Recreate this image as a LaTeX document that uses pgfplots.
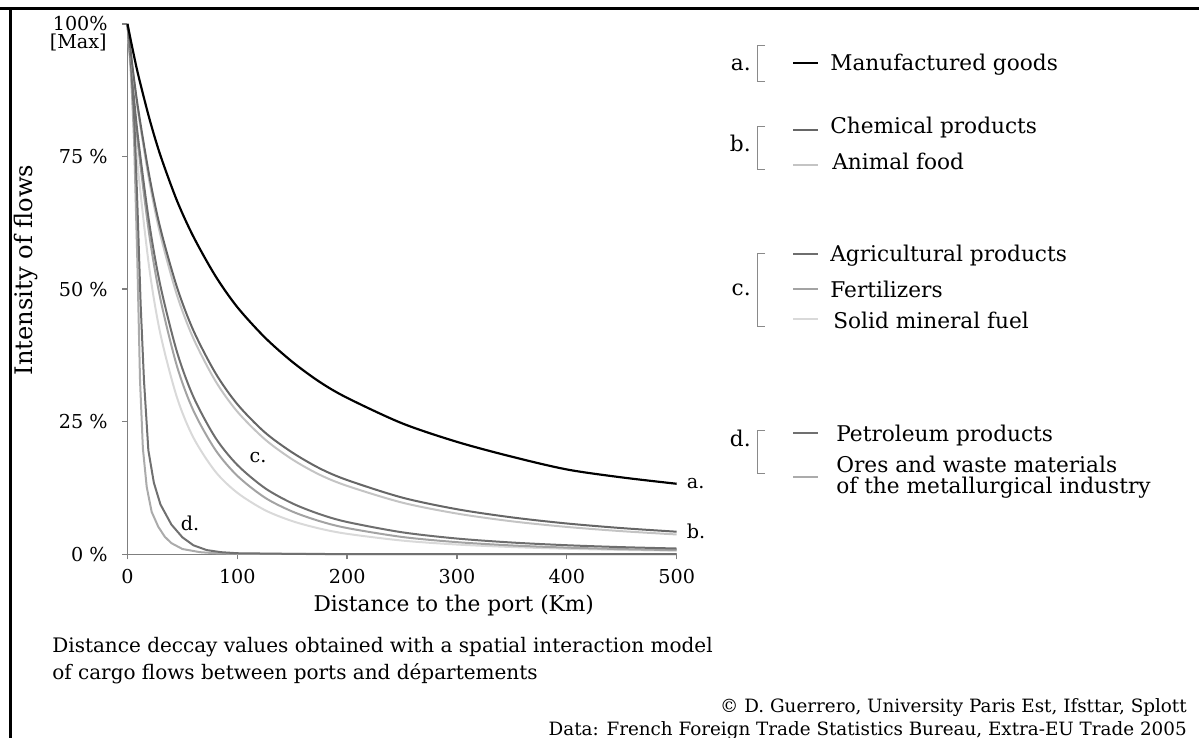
\documentclass[border=0pt]{standalone}
\usepackage{fontspec}
\setmainfont{DejaVu Serif}
\usepackage{pgfplots}
\pgfplotsset{compat=1.18}
\definecolor{axisgray}{HTML}{7F7F7F}
\definecolor{cA}{HTML}{000000}
\definecolor{cChem}{HTML}{666666}
\definecolor{cAnim}{HTML}{C4C4C4}
\definecolor{cAgri}{HTML}{6E6E6E}
\definecolor{cFert}{HTML}{A3A3A3}
\definecolor{cSolid}{HTML}{D9D9D9}
\definecolor{cPetro}{HTML}{707070}
\definecolor{cOres}{HTML}{ABABAB}
\definecolor{brk}{HTML}{8A8A8A}
\newcommand{\lf}{\fontsize{13}{15}\selectfont}
\newcommand{\cf}{\fontsize{11.5}{13}\selectfont}
\newcommand{\capf}{\fontsize{12}{14}\selectfont}
\newcommand{\srcf}{\fontsize{11}{13}\selectfont}
\begin{document}
\begin{tikzpicture}[x=0.6pt,y=0.6pt]
\path[use as bounding box] (0,0) rectangle (1199,738);
\draw[line width=1.8pt] (0,729) -- (1199,729);
\draw[line width=1.8pt] (10,0) -- (10,729.9);
\coordinate (O) at (127.5,183.7);
\begin{axis}[
  at={(O)}, anchor=south west, scale only axis,
  width=329.5pt, height=318.2pt,
  xmin=0, xmax=500, ymin=0, ymax=100,
  axis lines=left,
  axis line style={-, draw=axisgray, line width=0.9pt},
  tick style={draw=axisgray, line width=0.8pt},
  tick align=outside, major tick length=3pt,
  xtick={0,100,200,300,400,500},
  ytick={0,25,50,75,100},
  yticklabels={0 \%,25 \%,50 \%,75 \%,100\%},
  tick label style={font=\fontsize{11.5}{13}\selectfont},
  yticklabel style={xshift=-5.4pt},
  xticklabel style={yshift=-2.4pt},
  /pgf/number format/assume math mode=true,
  xlabel={Distance to the port (Km)},
  xlabel style={font=\lf, xshift=31pt},
  clip=false,
]
\addplot[cSolid, line width=1.2pt, smooth] coordinates {
(0,100)(5,84.2)(10,71.8)(20,53.7)(30,41.5)(45,29.6)(60,22.0)(80,15.6)(100,11.6)(125,8.34)(150,6.26)(175,4.85)(200,3.86)(250,2.59)(300,1.84)(350,1.37)(400,1.05)(450,0.83)(500,0.67)};
\addplot[cFert, line width=1.2pt, smooth] coordinates {
(0,100)(5,87.2)(10,76.5)(20,60.0)(30,48.1)(45,35.5)(60,27.1)(80,19.7)(100,14.8)(125,10.7)(150,8.07)(175,6.25)(200,4.95)(250,3.27)(300,2.29)(350,1.67)(400,1.26)(450,0.98)(500,0.78)};
\addplot[cAgri, line width=1.2pt, smooth] coordinates {
(0,100)(5,88.0)(10,77.9)(20,62.2)(30,50.6)(45,38.2)(60,29.7)(80,22.0)(100,16.85)(125,12.5)(150,9.61)(175,7.57)(200,6.09)(250,4.15)(300,2.97)(350,2.22)(400,1.71)(450,1.35)(500,1.09)};
\addplot[cOres, line width=1.2pt] coordinates {
(0,100)(3,92)(6,78)(9,55)(11.4,32.8)(14,20)(17.5,12.7)(22,8)(28,5.2)(34,3.3)(40,2.1)(50,1.0)(66,0.4)(80,0.2)(100,0.1)(200,0.03)(500,0.01)};
\addplot[cPetro, line width=1.2pt] coordinates {
(0,100)(3,93)(6,83)(9,66)(12,47)(15,32.8)(19,19.6)(24,13.5)(30,9.4)(40,5.6)(50,3.2)(60,1.7)(72,0.8)(85,0.4)(100,0.2)(150,0.08)(200,0.04)(300,0.02)(500,0.01)};
\addplot[cAnim, line width=1.2pt, smooth] coordinates {
(0,100)(5,90.9)(10,83.0)(20,70.2)(30,60.2)(45,48.9)(60,40.7)(80,32.7)(100,26.9)(125,21.7)(150,17.9)(175,15.0)(200,12.9)(250,9.75)(300,7.68)(350,6.22)(400,5.16)(450,4.36)(500,3.74)};
\addplot[cChem, line width=1.2pt, smooth] coordinates {
(0,100)(5,91.2)(10,83.6)(20,71.2)(30,61.4)(45,50.4)(60,42.2)(80,34.2)(100,28.3)(125,23.0)(150,19.2)(175,16.2)(200,14.0)(250,10.7)(300,8.5)(350,6.96)(400,5.81)(450,4.94)(500,4.26)};
\addplot[cA, line width=1.3pt, smooth] coordinates {
(0,100)(5,94.9)(10,90.2)(20,82.1)(30,75.2)(45,66.7)(60,59.9)(80,52.5)(100,46.6)(125,40.9)(150,36.3)(175,32.5)(200,29.5)(250,24.7)(300,21.2)(350,18.4)(400,16.0)(450,14.5)(500,13.3)};
\node[font=\cf, anchor=west] at (axis cs:504,13.4) {a.};
\node[font=\cf, anchor=west] at (axis cs:504,4.4) {b.};
\node[font=\cf] at (axis cs:118.8,18.2) {c.};
\node[font=\cf] at (axis cs:56.9,5.9) {d.};
\end{axis}
\node[font=\fontsize{11.5}{13}\selectfont, anchor=north east, inner sep=0pt] at (107,704) {[Max]};
\node[font=\fontsize{14.5}{16}\selectfont, rotate=90] at (26,468) {Intensity of flows};
\tikzset{brkt/.style={draw=brk, line width=0.6pt}}
\foreach \t/\b in {45.7/81.7, 126.7/170, 253.3/326.7, 431/474} {
  \draw[brkt] (765,738-\t) -- (757.5,738-\t) -- (757.5,738-\b) -- (765,738-\b);
}
\node[font=\lf, anchor=base east, inner sep=0pt] at (751,738-70.7) {a.};
\node[font=\lf, anchor=base east, inner sep=0pt] at (751,738-151.7) {b.};
\node[font=\lf, anchor=base east, inner sep=0pt] at (751,738-296) {c.};
\node[font=\lf, anchor=base east, inner sep=0pt] at (751,738-446.7) {d.};
\draw[cA, line width=1.2pt] (793,738-63.3) -- (818,738-63.3);
\draw[cChem, line width=1.2pt] (793,738-130) -- (818,738-130);
\draw[cAnim, line width=1.2pt] (793,738-165) -- (818,738-165);
\draw[cAgri, line width=1.2pt] (793,738-254.3) -- (818,738-254.3);
\draw[cFert, line width=1.2pt] (793,738-289.3) -- (818,738-289.3);
\draw[cSolid, line width=1.2pt] (793,738-319) -- (818,738-319);
\draw[cPetro, line width=1.2pt] (793,738-433.3) -- (818,738-433.3);
\draw[cOres, line width=1.2pt] (793,738-476.7) -- (818,738-476.7);
\node[font=\lf, anchor=base west, inner sep=0pt] at (830,738-70.7) {Manufactured goods};
\node[font=\lf, anchor=base west, inner sep=0pt] at (830,738-133.3) {Chemical products};
\node[font=\lf, anchor=base west, inner sep=0pt] at (832,738-170) {Animal food};
\node[font=\lf, anchor=base west, inner sep=0pt] at (830,738-261.7) {Agricultural products};
\node[font=\lf, anchor=base west, inner sep=0pt] at (830,738-297.3) {Fertilizers};
\node[font=\lf, anchor=base west, inner sep=0pt] at (833,738-328.3) {Solid mineral fuel};
\node[font=\lf, anchor=base west, inner sep=0pt] at (836,738-441.7) {Petroleum products};
\node[font=\lf, anchor=base west, inner sep=0pt] at (836,738-472.7) {Ores and waste materials};
\node[font=\lf, anchor=base west, inner sep=0pt] at (836,738-494) {of the metallurgical industry};
\node[font=\capf, anchor=base west, inner sep=0pt] at (52,738-653) {Distance deccay values obtained with a spatial interaction model};
\node[font=\capf, anchor=base west, inner sep=0pt] at (52,738-680) {of cargo flows between ports and départements};
\node[font=\srcf, anchor=base east, inner sep=0pt] at (1187,738-713) {© D. Guerrero, University Paris Est, Ifsttar, Splott};
\node[font=\srcf, anchor=base east, inner sep=0pt] at (1187,738-735.5) {Data: French Foreign Trade Statistics Bureau, Extra-EU Trade 2005};
\end{tikzpicture}
\end{document}
